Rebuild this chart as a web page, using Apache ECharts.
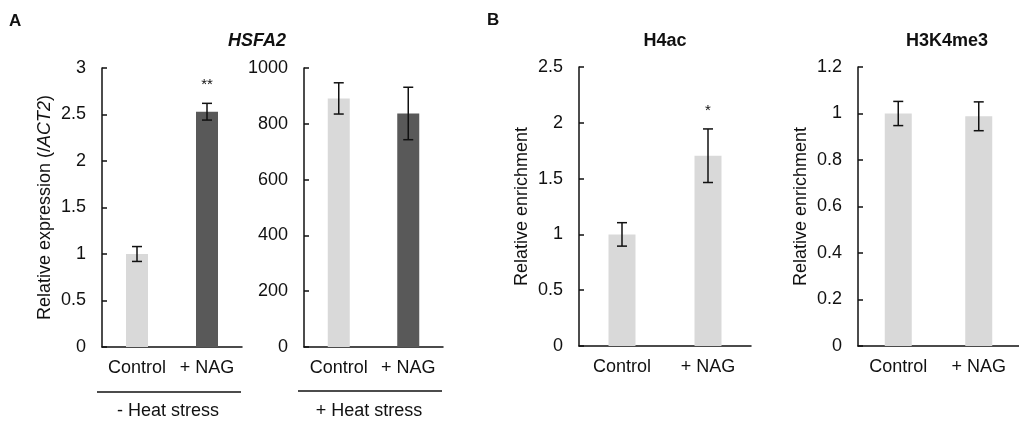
<!DOCTYPE html>
<html>
<head>
<meta charset="utf-8">
<script src="https://cdn.jsdelivr.net/npm/echarts@6/dist/echarts.min.js"></script>
<style>
html,body{margin:0;padding:0;background:#fff;}
#c{width:1019px;height:421px;}
</style>
</head>
<body>
<div id="c"></div>
<script>
// ---- data ----
var categories = ['Control', '+ NAG'];
var hsfaNoHeat = [1.0, 2.53];
var hsfaNoHeatErr = [0.08, 0.09];
var hsfaNoHeatSig = ['', '**'];
var hsfaHeat = [891, 837];
var hsfaHeatErr = [56, 94];
var hsfaHeatSig = ['', ''];
var h4ac = [1.0, 1.705];
var h4acErr = [0.105, 0.24];
var h4acSig = ['', '*'];
var h3k4 = [1.0, 0.988];
var h3k4Err = [0.052, 0.062];
var h3k4Sig = ['', ''];
var yTicksA1 = {min: 0, max: 3, interval: 0.5};
var yTicksA2 = {min: 0, max: 1000, interval: 200};
var yTicksB1 = {min: 0, max: 2.5, interval: 0.5};
var yTicksB2 = {min: 0, max: 1.2, interval: 0.2};

var LIGHT = '#d9d9d9', DARK = '#595959', INK = '#111';
var FONT = 'Liberation Sans, Arial, sans-serif';

var chart = echarts.init(document.getElementById('c'), null, {renderer: 'canvas'});

var grids = [
  {left: 102, top: 68, width: 140, height: 279},
  {left: 304, top: 68, width: 139, height: 279},
  {left: 579, top: 67, width: 172, height: 279},
  {left: 858, top: 67, width: 172, height: 279}
];

function xAx(i) {
  return {
    type: 'category', gridIndex: i, data: categories,
    axisLine: {show: true, lineStyle: {color: INK, width: 1.5}},
    axisTick: {show: false},
    axisLabel: {color: INK, fontSize: 18, fontFamily: FONT, margin: 12, interval: 0}
  };
}
function yAx(i, t, name) {
  var o = {
    type: 'value', gridIndex: i, min: t.min, max: t.max, interval: t.interval,
    axisLine: {show: true, onZero: false, lineStyle: {color: INK, width: 1.5}},
    axisTick: {show: true, inside: true, length: 5, lineStyle: {color: INK, width: 1.5}},
    splitLine: {show: false},
    axisLabel: {color: INK, fontSize: 18, fontFamily: FONT, margin: 16,
      formatter: function (v) { return String(Math.round(v * 1000) / 1000); }}
  };
  if (name) {
    o.name = name;
    o.nameLocation = 'middle';
    o.nameRotate = 90;
    o.nameGap = 48;
    o.nameTextStyle = {color: INK, fontSize: 18, fontFamily: FONT,
      rich: {i: {fontStyle: 'italic', fontSize: 18, fontFamily: FONT, color: INK}}};
  }
  return o;
}

function barSeries(i, vals, colors, bw) {
  return {
    type: 'bar', xAxisIndex: i, yAxisIndex: i, barWidth: bw,
    data: vals.map(function (v, k) { return {value: v, itemStyle: {color: colors[k]}}; }),
    silent: true
  };
}
function errSeries(i, vals, errs, sigs) {
  return {
    type: 'custom', xAxisIndex: i, yAxisIndex: i, silent: true, z: 5,
    data: vals.map(function (v, k) { return [k, v, errs[k]]; }),
    renderItem: function (params, api) {
      var k = api.value(0), v = api.value(1), e = api.value(2);
      var top = api.coord([k, v + e]);
      var bot = api.coord([k, v - e]);
      var hw = 5;
      var style = {stroke: INK, lineWidth: 1.5};
      var children = [
        {type: 'line', shape: {x1: top[0], y1: top[1], x2: bot[0], y2: bot[1]}, style: style},
        {type: 'line', shape: {x1: top[0] - hw, y1: top[1], x2: top[0] + hw, y2: top[1]}, style: style},
        {type: 'line', shape: {x1: bot[0] - hw, y1: bot[1], x2: bot[0] + hw, y2: bot[1]}, style: style}
      ];
      var s = sigs[params.dataIndex];
      if (s) {
        children.push({type: 'text', x: top[0], y: top[1] - 11,
          style: {text: s, fill: INK, fontSize: 15, fontFamily: FONT, align: 'center', verticalAlign: 'bottom'}});
      }
      return {type: 'group', children: children};
    }
  };
}

var option = {
  animation: false,
  backgroundColor: '#fff',
  textStyle: {fontFamily: FONT},
  title: [
    {text: 'HSFA2', left: 252, top: 27, textAlign: 'center',
      textStyle: {fontSize: 18, fontWeight: 'bold', fontStyle: 'italic', color: INK, fontFamily: FONT}},
    {text: 'H4ac', left: 660, top: 27, textAlign: 'center',
      textStyle: {fontSize: 18, fontWeight: 'bold', color: INK, fontFamily: FONT}},
    {text: 'H3K4me3', left: 942, top: 27, textAlign: 'center',
      textStyle: {fontSize: 18, fontWeight: 'bold', color: INK, fontFamily: FONT}}
  ],
  grid: grids,
  xAxis: [xAx(0), xAx(1), xAx(2), xAx(3)],
  yAxis: [
    yAx(0, yTicksA1, 'Relative expression (/{i|ACT2})'),
    yAx(1, yTicksA2, null),
    yAx(2, yTicksB1, 'Relative enrichment'),
    yAx(3, yTicksB2, 'Relative enrichment')
  ],
  series: [
    barSeries(0, hsfaNoHeat, [LIGHT, DARK], 22),
    errSeries(0, hsfaNoHeat, hsfaNoHeatErr, hsfaNoHeatSig),
    barSeries(1, hsfaHeat, [LIGHT, DARK], 22),
    errSeries(1, hsfaHeat, hsfaHeatErr, hsfaHeatSig),
    barSeries(2, h4ac, [LIGHT, LIGHT], 27),
    errSeries(2, h4ac, h4acErr, h4acSig),
    barSeries(3, h3k4, [LIGHT, LIGHT], 27),
    errSeries(3, h3k4, h3k4Err, h3k4Sig)
  ],
  graphic: [
    {type: 'text', left: 9, top: 13, style: {text: 'A', fontSize: 17, fontWeight: 'bold', fill: INK, fontFamily: FONT}},
    {type: 'text', left: 487, top: 12, style: {text: 'B', fontSize: 17, fontWeight: 'bold', fill: INK, fontFamily: FONT}},
    {type: 'line', shape: {x1: 97, y1: 392, x2: 241, y2: 392}, style: {stroke: INK, lineWidth: 1.5}},
    {type: 'line', shape: {x1: 298, y1: 391, x2: 442, y2: 391}, style: {stroke: INK, lineWidth: 1.5}},
    {type: 'text', x: 168, y: 411, style: {text: '- Heat stress', fontSize: 18, fill: INK, fontFamily: FONT, align: 'center', verticalAlign: 'middle'}},
    {type: 'text', x: 369, y: 411, style: {text: '+ Heat stress', fontSize: 18, fill: INK, fontFamily: FONT, align: 'center', verticalAlign: 'middle'}}
  ]
};
chart.setOption(option);
</script>
</body>
</html>
